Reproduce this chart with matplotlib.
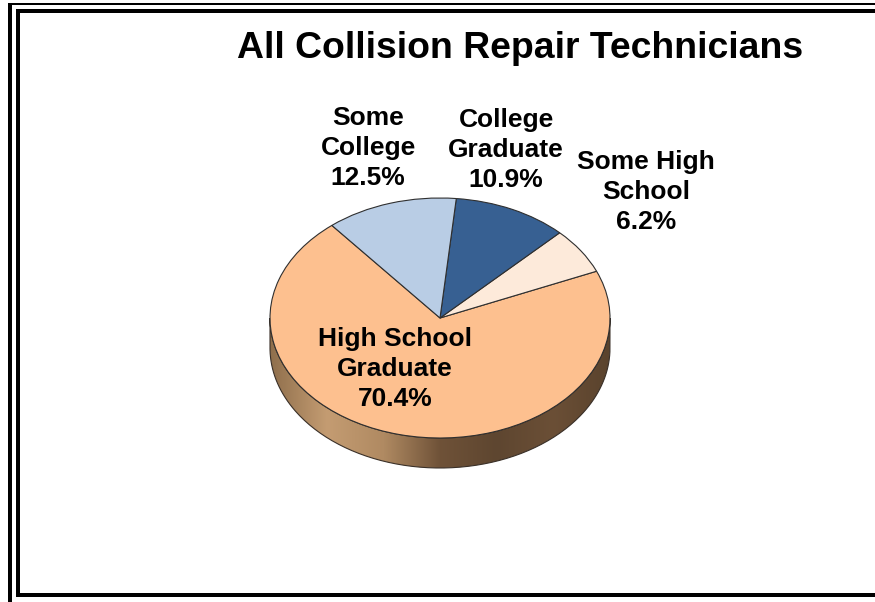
import numpy as np
import matplotlib
matplotlib.use('Agg')
import matplotlib.pyplot as plt
from matplotlib.colors import LinearSegmentedColormap
from matplotlib.path import Path
from matplotlib.patches import PathPatch

plt.rcParams['font.family'] = ['Liberation Sans', 'DejaVu Sans']

title = 'All Collision Repair Technicians'
categories = ['High School\nGraduate', 'Some High\nSchool', 'College\nGraduate', 'Some\nCollege']
shares = [70.4, 6.2, 10.9, 12.5]
colors = ['#FDC08F', '#FDEADA', '#376092', '#B9CDE5']
label_pos = [(395, 369), (646, 192), (506, 150), (368, 148)]
side_colors = ['#8f6f4c', '#c49c72', '#b08a62', '#6f5238', '#5e4630', '#6b4f36', '#5a432d']

W, H = 875, 602
fig = plt.figure(figsize=(W / 100, H / 100), dpi=100, facecolor='white')

# pie is a stretched circle: 170 px wide radius, 120 px high radius, 30 px deep
cx, cy, rx, ry, depth = 440, 318, 170, 120, 30
left, right, top, bottom = 250, 630, 180, 490
ax = fig.add_axes([left / W, 1 - bottom / H, (right - left) / W, (bottom - top) / H])
ax.set_facecolor('none')

# side of the disc
t = np.linspace(np.pi, 2 * np.pi, 200)
xs = np.cos(t)
ys = np.sin(t)
d = depth / ry
verts = np.r_[np.c_[xs, ys], np.c_[xs[::-1], ys[::-1] - d], [[xs[0], ys[0]]]]
side = PathPatch(Path(verts), facecolor='none', edgecolor='#3a3028', lw=0.8, zorder=2)
ax.add_patch(side)
cmap = LinearSegmentedColormap.from_list('side', side_colors)
img = ax.imshow(np.linspace(0, 1, 256)[None, :], cmap=cmap, extent=(-1, 1, -1 - d, 0),
                aspect='auto', zorder=1)
img.set_clip_path(side)

ax.pie(shares, colors=colors, startangle=129.5, radius=1, counterclock=True,
       wedgeprops={'edgecolor': '#2f2f2f', 'linewidth': 0.8, 'zorder': 3})
ax.set_aspect('auto')
ax.set_xlim((left - cx) / rx, (right - cx) / rx)
ax.set_ylim((cy - bottom) / ry, (cy - top) / ry)
ax.axis('off')

# frame and text in pixel coordinates
page = fig.add_axes([0, 0, 1, 1], facecolor='none')
page.set_xlim(0, W)
page.set_ylim(H, 0)
page.axis('off')
px = 72 / 100
page.plot([10, 10], [H, 4.3], color='black', lw=4 * px, solid_capstyle='butt')
page.plot([8, W], [4.3, 4.3], color='black', lw=2 * px, solid_capstyle='butt')
page.plot([W, 18, 18, W], [11, 11, 595, 595], color='black', lw=4 * px,
          solid_capstyle='butt', solid_joinstyle='miter')

page.text(520, 48, title, ha='center', va='center', fontsize=26.9, fontweight='bold', color='black')
for name, share, (x, y) in zip(categories, shares, label_pos):
    page.text(x, y, f'{name}\n{share}%', ha='center', va='center', fontsize=19,
              fontweight='bold', color='black', linespacing=1.3)

fig.savefig('out.png', dpi=100)
